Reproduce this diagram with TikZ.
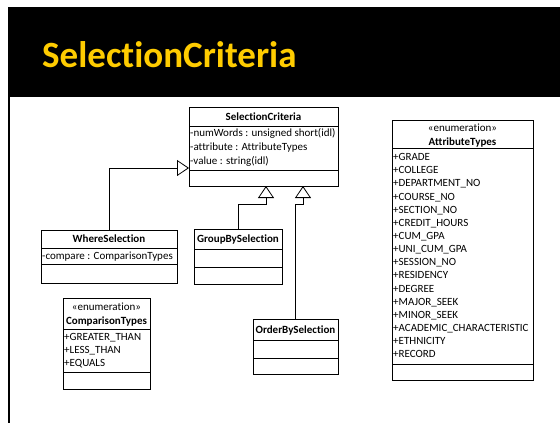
\documentclass[tikz,border=0pt]{standalone}
\usepackage{fontspec}
\setmainfont{Carlito}[Ligatures=NoCommon]
\usetikzlibrary{arrows.meta}
\definecolor{titleyellow}{RGB}{255,204,0}
\newcommand{\umlfont}{\fontsize{11}{12}\selectfont}
\tikzset{
  umlbox/.style={draw=black, line width=0.8pt, anchor=north west, inner sep=0pt, outer sep=0pt},
  attr/.style={anchor=base west, inner sep=0pt, font=\umlfont, yshift=-3.7pt},
  cname/.style={anchor=base, inner sep=0pt, font=\umlfont\bfseries, yshift=-3.7pt},
  stereo/.style={anchor=base, inner sep=0pt, font=\umlfont, yshift=-3.7pt},
  gen/.style={draw=black, line width=0.8pt, -{Triangle[open, length=12pt, width=16pt]}},
  sep/.style={draw=black, line width=0.8pt}
}
\begin{document}
\begin{tikzpicture}[x=1pt,y=-1pt]
\useasboundingbox (0,0) rectangle (560,423);
% slide frame
\fill[black] (8,7) rectangle (560,97);
\draw[line width=2pt] (9,97) -- (9,423);
\node[anchor=base west, inner sep=0pt, text=titleyellow, font=\fontsize{37}{40}\selectfont\bfseries] (title) at (42,67) {SelectionCriteria};

% SelectionCriteria
\node[umlbox, minimum width=149, minimum height=79] (sc) at (189,107) {};
\draw[sep] (sc.west |- 0,126) -- (sc.east |- 0,126);
\draw[sep] (sc.west |- 0,170) -- (sc.east |- 0,170);
\node[cname] (scn) at (263.5,116.5) {SelectionCriteria};
\node[attr] (sca1) at (190,133) {-numWords : unsigned short(idl)};
\node[attr] (sca2) at (190,147) {-attribute : AttributeTypes};
\node[attr] (sca3) at (190,161) {-value : string(idl)};

% WhereSelection
\node[umlbox, minimum width=136, minimum height=53] (ws) at (41,230) {};
\draw[sep] (ws.west |- 0,248) -- (ws.east |- 0,248);
\draw[sep] (ws.west |- 0,264) -- (ws.east |- 0,264);
\node[cname] (wsn) at (109,239) {WhereSelection};
\node[attr] (wsa1) at (42,256) {-compare : ComparisonTypes};

% GroupBySelection
\node[umlbox, minimum width=88, minimum height=55] (gb) at (194,229) {};
\draw[sep] (gb.west |- 0,249) -- (gb.east |- 0,249);
\draw[sep] (gb.west |- 0,267) -- (gb.east |- 0,267);
\node[cname] (gbn) at (238,239) {GroupBySelection};

% OrderBySelection
\node[umlbox, minimum width=85, minimum height=55] (ob) at (253,319) {};
\draw[sep] (ob.west |- 0,340) -- (ob.east |- 0,340);
\draw[sep] (ob.west |- 0,358) -- (ob.east |- 0,358);
\node[cname] (obn) at (295.5,329.5) {OrderBySelection};

% ComparisonTypes
\node[umlbox, minimum width=87, minimum height=91] (ct) at (63,298) {};
\draw[sep] (ct.west |- 0,329) -- (ct.east |- 0,329);
\draw[sep] (ct.west |- 0,372) -- (ct.east |- 0,372);
\node[stereo] (cts) at (106.5,307) {«enumeration»};
\node[cname] (ctn) at (106.5,321) {ComparisonTypes};
\node[attr] (cta1) at (64,337) {+GREATER\_THAN};
\node[attr] (cta2) at (64,350) {+LESS\_THAN};
\node[attr] (cta3) at (64,363) {+EQUALS};

% AttributeTypes
\node[umlbox, minimum width=141, minimum height=260] (at) at (392,120) {};
\draw[sep] (at.west |- 0,148) -- (at.east |- 0,148);
\draw[sep] (at.west |- 0,364) -- (at.east |- 0,364);
\node[stereo] (ats) at (462.5,128) {«enumeration»};
\node[cname] (atn) at (462.5,142) {AttributeTypes};
\foreach \t [count=\i from 0] in {GRADE,COLLEGE,DEPARTMENT\_NO,COURSE\_NO,SECTION\_NO,CREDIT\_HOURS,CUM\_GPA,UNI\_CUM\_GPA,SESSION\_NO,RESIDENCY,DEGREE,MAJOR\_SEEK,MINOR\_SEEK,ACADEMIC\_CHARACTERISTIC,ETHNICITY,RECORD}
  \node[attr] (ata\i) at (393,157+13.13*\i) {+\t};

% generalizations
\coordinate (scL) at (sc.west |- 0,168);
\draw[gen] (ws.north) |- (scL);
\coordinate (gbk) at (266,204);
\draw[gen] (gb.north) |- (gbk) -- (gbk |- sc.south);
\coordinate (obk) at (303,204);
\draw[gen] (ob.north) |- (obk) -- (obk |- sc.south);
\end{tikzpicture}
\end{document}
